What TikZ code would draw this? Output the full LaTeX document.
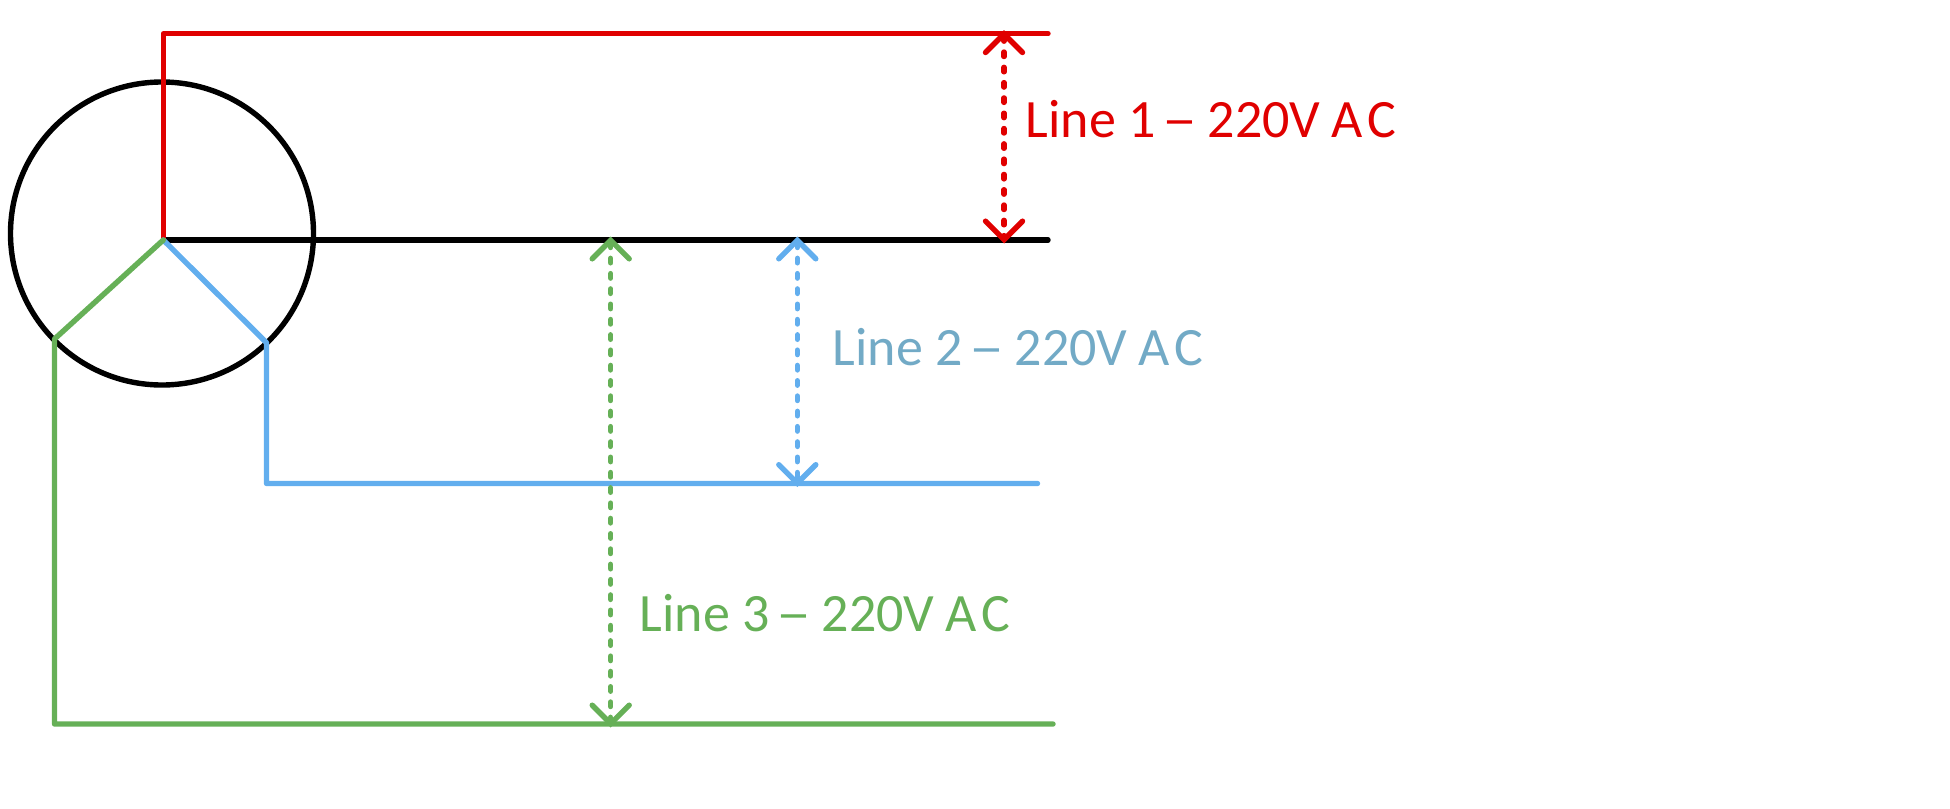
\documentclass[tikz,border=0pt]{standalone}
\usepackage{fontspec}
\setmainfont{Carlito}
\usetikzlibrary{arrows.meta}
\definecolor{lred}{HTML}{E00000}
\definecolor{lblue}{HTML}{62AEEE}
\definecolor{lteal}{HTML}{72AAC6}
\definecolor{lgreen}{HTML}{66B057}
\newcommand{\voltlabel}[1]{\makebox[137pt][l]{Line #1}\makebox[45pt][l]{\scalebox{1.3}[1]{–}}\makebox[124pt][l]{220V}A\kern5pt C}
\tikzset{
  wire/.style={line width=5.4pt,line cap=round,line join=round},
  volt/.style={line width=5.4pt,line cap=round,dash pattern=on 4.5pt off 10.8pt,
    {Straight Barb[length=18.5pt,width=37pt,line cap=round,line join=miter]}-{Straight Barb[length=18.5pt,width=37pt,line cap=round,line join=miter]}},
  lbl/.style={anchor=base west,inner sep=0pt,font=\fontsize{54pt}{60pt}\selectfont}
}
\begin{document}
\begin{tikzpicture}[x=1pt,y=-1pt]
\useasboundingbox (0,0) rectangle (1950,808);
\coordinate (c) at (162,233.5);
\coordinate (n) at (163.3,240);
\coordinate (redtop) at (163.3,33.7);
\coordinate (redend) at (1048,33.7);
\coordinate (blackend) at (1048,240);
\coordinate (bj) at (266.5,342.7);
\coordinate (bc) at (266.5,483.5);
\coordinate (bend) at (1037.5,483.5);
\coordinate (gj) at (54.5,339);
\coordinate (gc) at (54.5,724);
\coordinate (gend) at (1053,724);
\coordinate (ra) at (1004,30.2);
\coordinate (rb) at (1004,243.5);
\coordinate (ba) at (797.3,236.5);
\coordinate (bb) at (797.3,487);
\coordinate (ga) at (610.7,236.5);
\coordinate (gb) at (610.7,727.5);
\draw[wire,black] (c) circle[radius=151.5];
\draw[wire,black] (n) -- (blackend);
\draw[wire,lred] (n) -- (redtop) -- (redend);
\draw[wire,lblue] (n) -- (bj) -- (bc) -- (bend);
\draw[wire,lgreen] (n) -- (gj) -- (gc) -- (gend);
\draw[volt,lred] (ra) -- (rb);
\draw[volt,lblue] (ba) -- (bb);
\draw[volt,lgreen] (ga) -- (gb);
\node[lbl,text=lred] (l1) at (1025.5,137) {\voltlabel{1}};
\node[lbl,text=lteal] (l2) at (832.5,365) {\voltlabel{2}};
\node[lbl,text=lgreen] (l3) at (639.5,631.7) {\voltlabel{3}};
\end{tikzpicture}
\end{document}
